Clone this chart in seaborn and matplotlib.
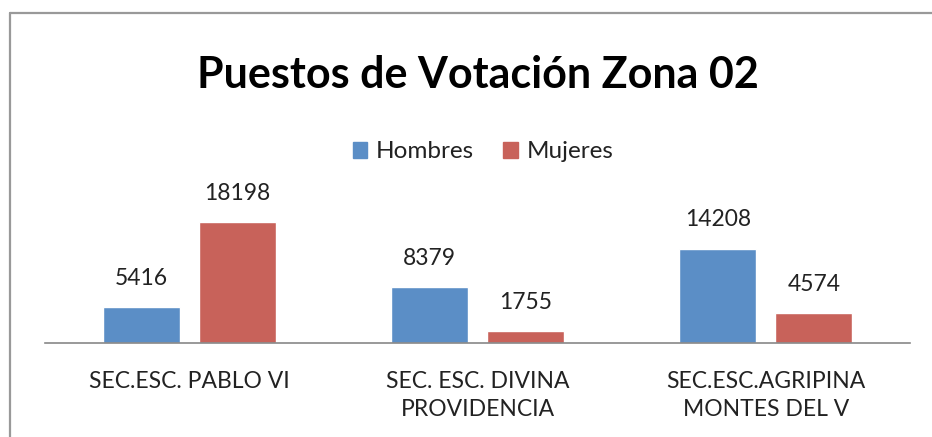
import matplotlib
matplotlib.use("Agg")
import matplotlib.pyplot as plt
import seaborn as sns
import pandas as pd
from matplotlib.lines import Line2D

categories = ["SEC.ESC. PABLO VI", "SEC. ESC. DIVINA\nPROVIDENCIA", "SEC.ESC.AGRIPINA\nMONTES DEL V"]
hombres = [5416, 8379, 14208]
mujeres = [18198, 1755, 4574]
series = ["Hombres", "Mujeres"]
colors = ["#5B8EC6", "#C8625A"]

df = pd.DataFrame({
    "cat": categories * 2,
    "serie": [series[0]] * 3 + [series[1]] * 3,
    "val": hombres + mujeres,
})

sns.set_theme(style="white")
plt.rcParams["font.family"] = ["Lato", "DejaVu Sans"]

W, H = 932, 437
fig = plt.figure(figsize=(W / 100, H / 100), dpi=100)
fig.patch.set_facecolor("white")

# chart frame (top and left edges visible)
fig.add_artist(Line2D([10 / W, 1.0], [1 - 13 / H, 1 - 13 / H], color="#999999", lw=1.6))
fig.add_artist(Line2D([10 / W, 10 / W], [0, 1 - 13 / H], color="#999999", lw=1.6))

ax = fig.add_axes([45 / W, (H - 343) / H, 865 / W, 133 / H])
sns.barplot(data=df, x="cat", y="val", hue="serie", palette=colors,
            width=0.667, gap=0.2, ax=ax, legend=False, saturation=1)
ax.set_ylim(0, 20000)
ax.set_xlim(-0.5, 2.5)
for s in ["top", "right", "left"]:
    ax.spines[s].set_visible(False)
ax.spines["bottom"].set_color("#888888")
ax.spines["bottom"].set_linewidth(1.2)
ax.set_yticks([])
ax.set_xlabel("")
ax.set_ylabel("")
ax.tick_params(axis="x", length=0, pad=20, labelsize=16.5, labelcolor="#222222")
for lab in ax.get_xticklabels():
    lab.set_linespacing(1.45)

for cont in ax.containers:
    ax.bar_label(cont, fmt="%d", padding=13, fontsize=16.5, color="#222222")

fig.text(478 / W, 1 - 75 / H, "Puestos de Votación Zona 02", ha="center", va="center",
         fontsize=31, fontweight="bold", color="black")

handles = [plt.Rectangle((0, 0), 1, 1, color=c) for c in colors]
fig.legend(handles, series, loc="center", bbox_to_anchor=(483 / W, 1 - 152 / H), ncol=2,
           frameon=False, fontsize=17.5, handlelength=0.6, handleheight=0.6,
           handletextpad=0.35, columnspacing=1.2, labelcolor="#222222")

fig.savefig("out.png", dpi=100, facecolor="white")
